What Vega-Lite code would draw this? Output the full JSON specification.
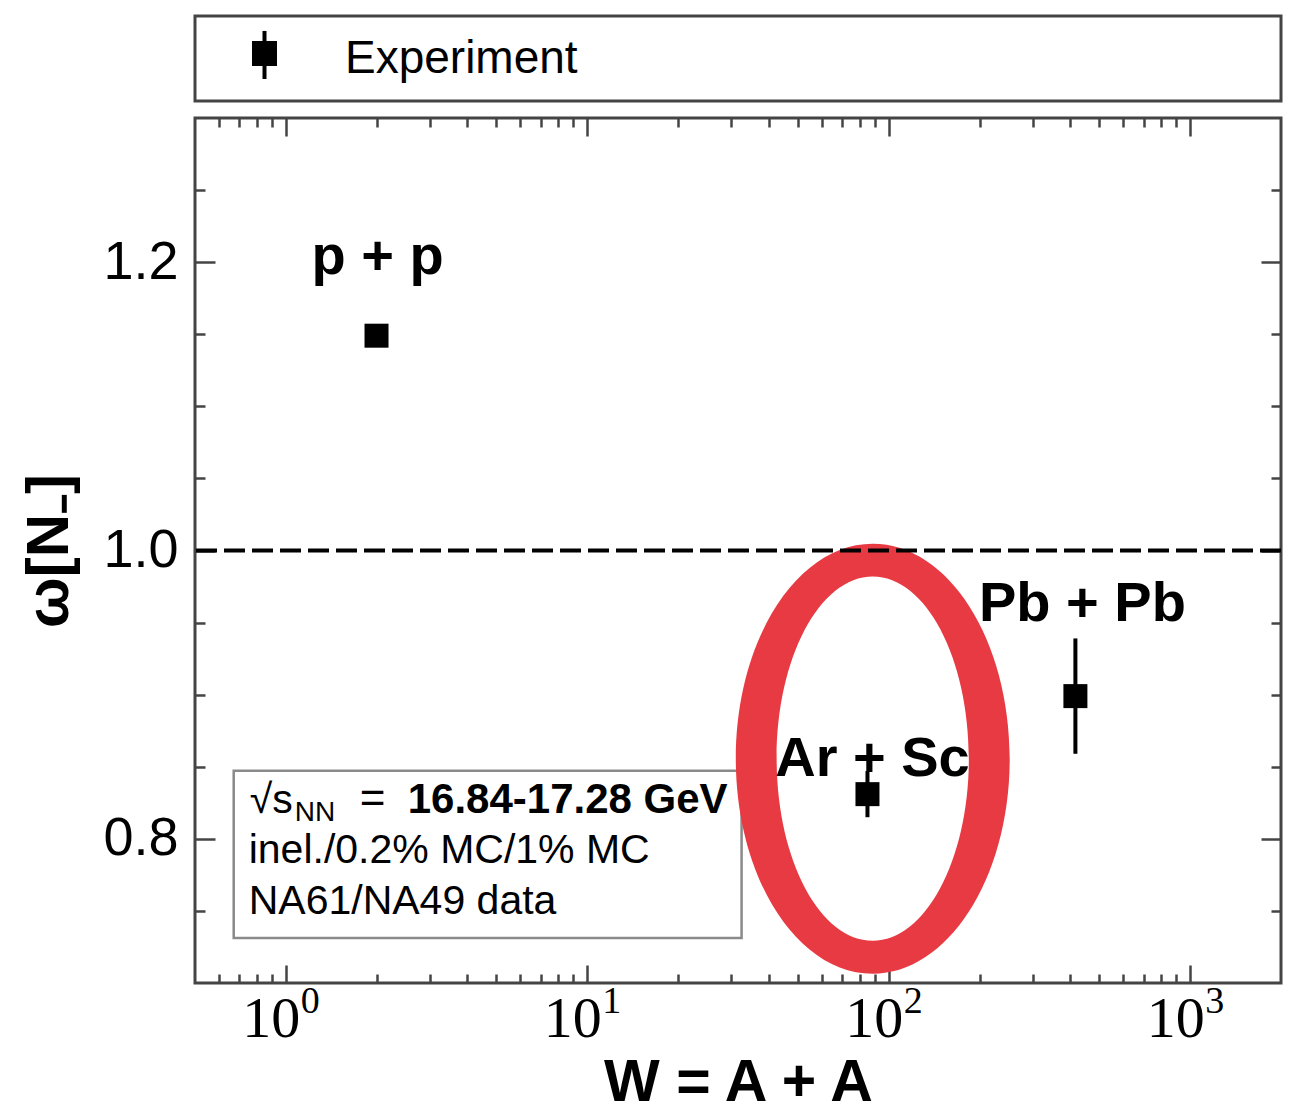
{
  "$schema": "https://vega.github.io/schema/vega-lite/v6.json",
  "background": "white",
  "padding": {"left": 18, "top": 14, "right": 5, "bottom": 0},
  "spacing": 12,
  "config": {
    "view": {"stroke": "#444444", "strokeWidth": 3},
    "font": "Liberation Sans",
    "axis": {"grid": false, "domain": false, "labelColor": "black", "titleColor": "black", "tickColor": "#444444", "tickWidth": 2.5}
  },
  "vconcat": [
    {
      "width": 1086,
      "height": 85,
      "data": {"values": [{"series": "Experiment"}]},
      "layer": [
        {
          "mark": {"type": "rule", "color": "black", "strokeWidth": 4},
          "encoding": {
            "x": {"datum": 0.064, "type": "quantitative", "scale": {"domain": [0, 1]}, "axis": null},
            "y": {"datum": 0.259, "type": "quantitative", "scale": {"domain": [0, 1]}, "axis": null},
            "y2": {"datum": 0.824}
          }
        },
        {
          "mark": {"type": "square", "size": 625, "filled": true, "color": "black", "opacity": 1},
          "encoding": {
            "x": {"datum": 0.064, "type": "quantitative", "axis": null},
            "y": {"datum": 0.559, "type": "quantitative", "axis": null}
          }
        },
        {
          "mark": {"type": "text", "align": "left", "baseline": "alphabetic", "fontSize": 46, "color": "black"},
          "encoding": {
            "x": {"datum": 0.1381, "type": "quantitative", "axis": null},
            "y": {"datum": 0.329, "type": "quantitative", "axis": null},
            "text": {"field": "series"}
          }
        }
      ]
    },
    {
      "width": 1086,
      "height": 865,
      "data": {
        "values": [
          {"system": "p + p", "W": 2, "omega": 1.149, "lo": 1.145, "hi": 1.153},
          {"system": "Ar + Sc", "W": 85, "omega": 0.831, "lo": 0.815, "hi": 0.847},
          {"system": "Pb + Pb", "W": 416, "omega": 0.899, "lo": 0.859, "hi": 0.939}
        ]
      },
      "resolve": {"axis": {"x": "independent", "y": "independent"}},
      "layer": [
        {
          "data": {"values": [{"note": "conditions"}]},
          "mark": {"type": "rect", "fill": "white", "stroke": "#8a8a8a", "strokeWidth": 2.5},
          "encoding": {
            "x": {
              "datum": 0.672, "type": "quantitative",
              "scale": {"type": "log", "domain": [0.5, 2000], "nice": false},
              "axis": {
                "orient": "bottom",
                "values": [0.6, 0.7, 0.8, 0.9, 1, 2, 3, 4, 5, 6, 7, 8, 9, 10, 20, 30, 40, 50, 60, 70, 80, 90, 100, 200, 300, 400, 500, 600, 700, 800, 900, 1000],
                "tickSize": {"condition": {"test": "datum.value == 1 || datum.value == 10 || datum.value == 100 || datum.value == 1000", "value": -18}, "value": -9},
                "labelExpr": "(datum.value == 1 || datum.value == 10 || datum.value == 100 || datum.value == 1000) ? '10' : ''",
                "labelFont": "Liberation Serif", "labelFontSize": 58, "labelPadding": 25, "labelOffset": -15, "labelOverlap": false, "labelFlush": false,
                "title": "W = A + A", "titleFontSize": 59, "titleFontWeight": "bold", "titlePadding": -4
              }
            },
            "x2": {"datum": 32.5},
            "y": {
              "datum": 0.7313, "type": "quantitative",
              "scale": {"domain": [0.7, 1.3], "nice": false, "zero": false},
              "axis": {
                "orient": "left",
                "values": [0.75, 0.8, 0.85, 0.9, 0.95, 1, 1.05, 1.1, 1.15, 1.2, 1.25],
                "tickSize": {"condition": {"test": "abs(datum.value - 0.8) < 0.001 || abs(datum.value - 1) < 0.001 || abs(datum.value - 1.2) < 0.001", "value": -20}, "value": -10},
                "labelExpr": "(abs(datum.value - 0.8) < 0.001 || abs(datum.value - 1) < 0.001 || abs(datum.value - 1.2) < 0.001) ? format(datum.value, '.1f') : ''",
                "labelFontSize": 54, "labelPadding": 37, "labelOverlap": false, "labelFlush": false,
                "title": "ω[N₋]", "titleFontSize": 60, "titleFontWeight": "bold", "titlePadding": 22
              }
            },
            "y2": {"datum": 0.8472}
          }
        },
        {
          "data": {"values": [{"highlight": "Ar + Sc"}]},
          "mark": {
            "type": "point",
            "shape": "M0,-1C0.3518,-1,0.637,-0.5523,0.637,0C0.637,0.5523,0.3518,1,0,1C-0.3518,1,-0.637,0.5523,-0.637,0C-0.637,-0.5523,-0.3518,-1,0,-1ZM0,-0.847C-0.2469,-0.847,-0.447,-0.4678,-0.447,0C-0.447,0.4678,-0.2469,0.847,0,0.847C0.2469,0.847,0.447,0.4678,0.447,0C0.447,-0.4678,0.2469,-0.847,0,-0.847Z",
            "size": 184900, "filled": true, "color": "#e83a43", "opacity": 1, "strokeWidth": 0
          },
          "encoding": {
            "x": {"datum": 88.5, "type": "quantitative", "axis": null},
            "y": {"datum": 0.8556, "type": "quantitative", "axis": null}
          }
        },
        {
          "data": {"values": [{"reference": 1}]},
          "mark": {"type": "rule", "color": "black", "strokeWidth": 4, "strokeDash": [21, 7]},
          "encoding": {"y": {"field": "reference", "type": "quantitative", "axis": null}}
        },
        {
          "data": {"values": [{"t": "√s"}]},
          "mark": {"type": "text", "align": "left", "baseline": "alphabetic", "fontSize": 41, "dx": 16, "color": "black"},
          "encoding": {
            "x": {"datum": 0.672, "type": "quantitative", "axis": null},
            "y": {"datum": 0.8181, "type": "quantitative", "axis": null},
            "text": {"field": "t"}
          }
        },
        {
          "data": {"values": [{"t": "NN"}]},
          "mark": {"type": "text", "align": "left", "baseline": "alphabetic", "fontSize": 28, "dx": 61, "dy": 8, "color": "black"},
          "encoding": {
            "x": {"datum": 0.672, "type": "quantitative", "axis": null},
            "y": {"datum": 0.8181, "type": "quantitative", "axis": null},
            "text": {"field": "t"}
          }
        },
        {
          "data": {"values": [{"t": "="}]},
          "mark": {"type": "text", "align": "left", "baseline": "alphabetic", "fontSize": 44, "dx": 126, "color": "black"},
          "encoding": {
            "x": {"datum": 0.672, "type": "quantitative", "axis": null},
            "y": {"datum": 0.8181, "type": "quantitative", "axis": null},
            "text": {"field": "t"}
          }
        },
        {
          "data": {"values": [{"t": "16.84-17.28 GeV"}]},
          "mark": {"type": "text", "align": "left", "baseline": "alphabetic", "fontSize": 42, "fontWeight": "bold", "dx": 174, "color": "black"},
          "encoding": {
            "x": {"datum": 0.672, "type": "quantitative", "axis": null},
            "y": {"datum": 0.8181, "type": "quantitative", "axis": null},
            "text": {"field": "t"}
          }
        },
        {
          "data": {"values": [{"t": "inel./0.2% MC/1% MC"}]},
          "mark": {"type": "text", "align": "left", "baseline": "alphabetic", "fontSize": 41, "dx": 15, "color": "black"},
          "encoding": {
            "x": {"datum": 0.672, "type": "quantitative", "axis": null},
            "y": {"datum": 0.7833, "type": "quantitative", "axis": null},
            "text": {"field": "t"}
          }
        },
        {
          "data": {"values": [{"t": "NA61/NA49 data"}]},
          "mark": {"type": "text", "align": "left", "baseline": "alphabetic", "fontSize": 41, "dx": 15, "color": "black"},
          "encoding": {
            "x": {"datum": 0.672, "type": "quantitative", "axis": null},
            "y": {"datum": 0.7479, "type": "quantitative", "axis": null},
            "text": {"field": "t"}
          }
        },
        {
          "mark": {"type": "rule", "color": "black", "strokeWidth": 4},
          "encoding": {
            "x": {
              "field": "W", "type": "quantitative",
              "axis": {
                "orient": "bottom",
                "values": [1, 10, 100, 1000],
                "tickSize": -18, "tickOpacity": 0,
                "labelExpr": "datum.value == 1 ? '0' : datum.value == 10 ? '1' : datum.value == 100 ? '2' : '3'",
                "labelFont": "Liberation Serif", "labelFontSize": 38, "labelPadding": 17, "labelOffset": 24, "labelOverlap": false, "labelFlush": false,
                "title": null
              }
            },
            "y": {"field": "lo", "type": "quantitative", "axis": null},
            "y2": {"field": "hi"}
          }
        },
        {
          "mark": {"type": "square", "size": 576, "filled": true, "color": "black", "opacity": 1},
          "encoding": {
            "x": {
              "field": "W", "type": "quantitative",
              "axis": {
                "orient": "top",
                "values": [0.6, 0.7, 0.8, 0.9, 1, 2, 3, 4, 5, 6, 7, 8, 9, 10, 20, 30, 40, 50, 60, 70, 80, 90, 100, 200, 300, 400, 500, 600, 700, 800, 900, 1000],
                "tickSize": {"condition": {"test": "datum.value == 1 || datum.value == 10 || datum.value == 100 || datum.value == 1000", "value": -18}, "value": -9},
                "labels": false, "title": null
              }
            },
            "y": {
              "field": "omega", "type": "quantitative",
              "axis": {
                "orient": "right",
                "values": [0.75, 0.8, 0.85, 0.9, 0.95, 1, 1.05, 1.1, 1.15, 1.2, 1.25],
                "tickSize": {"condition": {"test": "abs(datum.value - 0.8) < 0.001 || abs(datum.value - 1) < 0.001 || abs(datum.value - 1.2) < 0.001", "value": -20}, "value": -10},
                "labels": false, "title": null
              }
            }
          }
        },
        {
          "transform": [{"filter": "datum.system == 'p + p'"}],
          "mark": {"type": "text", "align": "center", "baseline": "alphabetic", "fontSize": 56, "fontWeight": "bold", "dx": 1, "dy": -62, "color": "black"},
          "encoding": {
            "x": {"field": "W", "type": "quantitative", "axis": null},
            "y": {"field": "omega", "type": "quantitative", "axis": null},
            "text": {"field": "system"}
          }
        },
        {
          "transform": [{"filter": "datum.system == 'Ar + Sc'"}],
          "mark": {"type": "text", "align": "center", "baseline": "alphabetic", "fontSize": 56, "fontWeight": "bold", "dx": 5, "dy": -18, "color": "black"},
          "encoding": {
            "x": {"field": "W", "type": "quantitative", "axis": null},
            "y": {"field": "omega", "type": "quantitative", "axis": null},
            "text": {"field": "system"}
          }
        },
        {
          "transform": [{"filter": "datum.system == 'Pb + Pb'"}],
          "mark": {"type": "text", "align": "center", "baseline": "alphabetic", "fontSize": 56, "fontWeight": "bold", "dx": 7, "dy": -75, "color": "black"},
          "encoding": {
            "x": {"field": "W", "type": "quantitative", "axis": null},
            "y": {"field": "omega", "type": "quantitative", "axis": null},
            "text": {"field": "system"}
          }
        }
      ]
    }
  ]
}
